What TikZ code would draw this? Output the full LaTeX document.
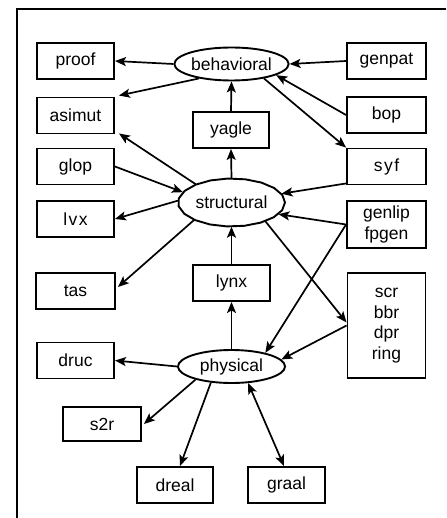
\documentclass[tikz,border=0pt]{standalone}
\usepackage{fontspec}
\setmainfont{Liberation Sans}
\usetikzlibrary{arrows.meta,shapes.geometric}
\begin{document}
\begin{tikzpicture}[x=1pt,y=-1pt,
  every node/.style={font=\fontsize{17.5}{20.5}\selectfont, inner sep=0pt},
  box/.style={draw, line width=1.9pt, minimum width=77pt, minimum height=36pt, align=center},
  oval/.style={ellipse, draw, line width=1.9pt, minimum width=107pt, minimum height=33pt},
  arr/.style={line width=1.7pt, -{Stealth[length=11pt,width=9pt,inset=2.5pt]}},
  darr/.style={line width=1.7pt, {Stealth[length=11pt,width=9pt,inset=2.5pt]}-{Stealth[length=11pt,width=9pt,inset=2.5pt]}}
]
\useasboundingbox (0,0) rectangle (446,518);
\draw[line width=2pt] (17,518) -- (17,9) -- (446,9);

% ovals
\node[oval] (behavioral) at (231.5,64) {behavioral};
\node[ellipse, minimum width=107pt, minimum height=48pt] (structural) at (231.5,202.5) {structural};
\draw[line width=1.9pt] plot[samples=19, domain=0:342] ({231.5+53.5*cos(\x)},{202.5+24*sin(\x)}) -- cycle;
\node[oval] (physical) at (231.5,366.5) {physical};

% boxes
\node[box] (proof) at (75.5,61) {proof};
\node[box, minimum width=79pt] (genpat) at (386.5,61) {genpat};
\node[box] (asimut) at (75.5,115.5) {asimut};
\node[box, minimum width=79pt] (bop) at (386.5,115) {bop};
\node[box, minimum width=76pt] (yagle) at (231,130) {yagle};
\node[box] (glop) at (75.5,166.5) {glop};
\node[box, minimum width=79pt] (syf) at (386.5,166.5) {s\kern1.5pt y\kern1.5pt f};
\node[box] (lvx) at (75.5,219) {l\kern1.5pt v\kern1.5pt x};
\node[box, minimum width=79pt, minimum height=47pt] (genlip) at (386.5,224.5) {genlip\\fpgen};
\node[box, minimum width=79pt] (tas) at (75.5,291) {tas};
\node[box] (lynx) at (231.5,283) {lynx};
\node[box, minimum width=78pt, minimum height=105pt] (scr) at (386.5,325.5) {scr\\bbr\\dpr\\ring};
\node[box] (druc) at (75.5,360.5) {druc};
\node[box, minimum width=78pt, minimum height=34pt] (s2r) at (102,424) {s2r};
\node[box, minimum width=76pt] (dreal) at (175,485) {dreal};
\node[box] (graal) at (286.5,485) {graal};

% connectors: behavioral
\draw[arr] (behavioral.west) -- (proof.east);
\draw[arr] (behavioral.204) -- ([xshift=4pt,yshift=1pt]asimut.north east);
\draw[arr] (genpat.west) -- (behavioral.east);
\draw[arr] (bop.west) -- (behavioral.346.7);
\draw[arr] (behavioral.336) -- (syf.north west);
\draw[arr] (yagle.north) -- (behavioral.south);

% structural
\draw[arr] (structural.north) -- (yagle.south);
\draw[arr] (structural.153) -- ([xshift=4pt,yshift=1pt]asimut.south east);
\draw[arr] (glop.east) -- (structural.168);
\draw[arr] ([yshift=2pt]syf.south west) -- (structural.10.3);
\draw[arr] (structural.178) -- (lvx.east);
\draw[arr] (genlip.west) -- (structural.346.4);
\draw[arr] (structural.205.6) -- ([xshift=2pt,yshift=4pt]tas.east);
\draw[arr] (lynx.north) -- (structural.south);
\draw[arr] (structural.331.9) -- ([yshift=3pt]scr.west);

% physical
\draw[arr] (genlip.west) -- (physical.22.8);
\draw[arr] (scr.west) -- (physical.8.7);
\draw[arr] (physical.north) -- (lynx.south);
\draw[arr] (physical.west) -- (druc.east);
\draw[arr] (physical.200.8) -- ([xshift=2pt]s2r.east);
\draw[arr] (physical.218.5) -- ([xshift=5pt]dreal.north);
\draw[darr] (physical.315) -- ([xshift=-2.5pt]graal.north);
\end{tikzpicture}
\end{document}
